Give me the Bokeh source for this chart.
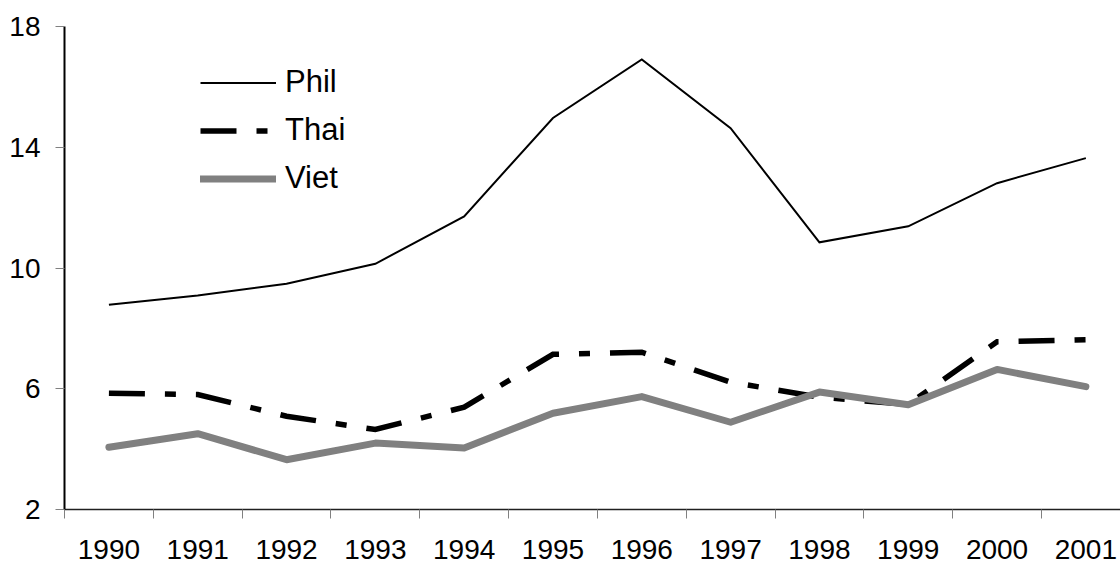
from bokeh.plotting import figure
from bokeh.models import FixedTicker, Range1d, Legend, LegendItem, ColumnDataSource
from bokeh.embed import file_html
from bokeh.resources import INLINE

years = [1990, 1991, 1992, 1993, 1994, 1995, 1996, 1997, 1998, 1999, 2000, 2001]
phil = [8.78, 9.09, 9.48, 10.14, 11.71, 14.97, 16.91, 14.63, 10.85, 11.38, 12.81, 13.64]
thai = [5.85, 5.81, 5.09, 4.65, 5.39, 7.14, 7.21, 6.22, 5.72, 5.48, 7.56, 7.62]
viet = [4.06, 4.51, 3.65, 4.20, 4.04, 5.19, 5.74, 4.89, 5.89, 5.47, 6.64, 6.07]
y_ticks = [2, 6, 10, 14, 18]
year_bounds = [y - 0.5 for y in years] + [years[-1] + 0.5]

src = ColumnDataSource(dict(year=years, phil=phil, thai=thai, viet=viet))

FONT = "Liberation Sans"
FS = "28px"

p = figure(width=1120, height=563, output_backend="svg", toolbar_location=None,
           x_range=Range1d(1989.5, 2001.39), y_range=Range1d(2, 18),
           min_border_left=64, min_border_right=0, min_border_top=26, min_border_bottom=54,
           background_fill_color="white", border_fill_color="white")
p.outline_line_color = None

# grids: only the top line at 18
p.xgrid.visible = False
p.ygrid.ticker = FixedTicker(ticks=[18])
p.ygrid.grid_line_color = "#808080"
p.ygrid.grid_line_width = 1

# y axis
ya = p.yaxis[0]
ya.ticker = FixedTicker(ticks=y_ticks)
ya.axis_line_color = "black"
ya.axis_line_width = 2
ya.major_tick_line_color = "#808080"
ya.major_tick_out = 9
ya.major_tick_in = 0
ya.minor_tick_line_color = None
ya.major_label_standoff = 15
ya.major_label_text_font = FONT
ya.major_label_text_font_size = FS
ya.major_label_text_color = "black"

# x axis: labels at year centres, tick marks at boundaries
xa = p.xaxis[0]
xa.ticker = FixedTicker(ticks=years, minor_ticks=year_bounds)
xa.axis_line_color = "#202020"
xa.axis_line_width = 1.5
xa.major_tick_line_color = None
xa.major_tick_out = 0
xa.major_tick_in = 0
xa.minor_tick_line_color = "#808080"
xa.minor_tick_out = 9
xa.minor_tick_in = 0
xa.major_label_standoff = 21
xa.major_label_text_font = FONT
xa.major_label_text_font_size = FS
xa.major_label_text_color = "black"

r_phil = p.line("year", "phil", source=src, line_color="black", line_width=2, line_join="miter")
r_thai = p.line("year", "thai", source=src, line_color="black", line_width=5.5,
                line_dash="36 20 11 20", line_join="miter")
r_viet = p.line("year", "viet", source=src, line_color="#808080", line_width=7,
                line_cap="round", line_join="round")

legend = Legend(items=[LegendItem(label="Phil", renderers=[r_phil]),
                       LegendItem(label="Thai", renderers=[r_thai]),
                       LegendItem(label="Viet", renderers=[r_viet])],
                location=(136, 313), orientation="vertical",
                glyph_width=76, glyph_height=35, label_standoff=9, spacing=12,
                padding=0, margin=0, border_line_color=None, background_fill_alpha=0,
                label_text_font=FONT, label_text_font_size="31px", label_text_color="black")
p.add_layout(legend, "center")

open("out.html", "w").write(file_html(p, INLINE))
